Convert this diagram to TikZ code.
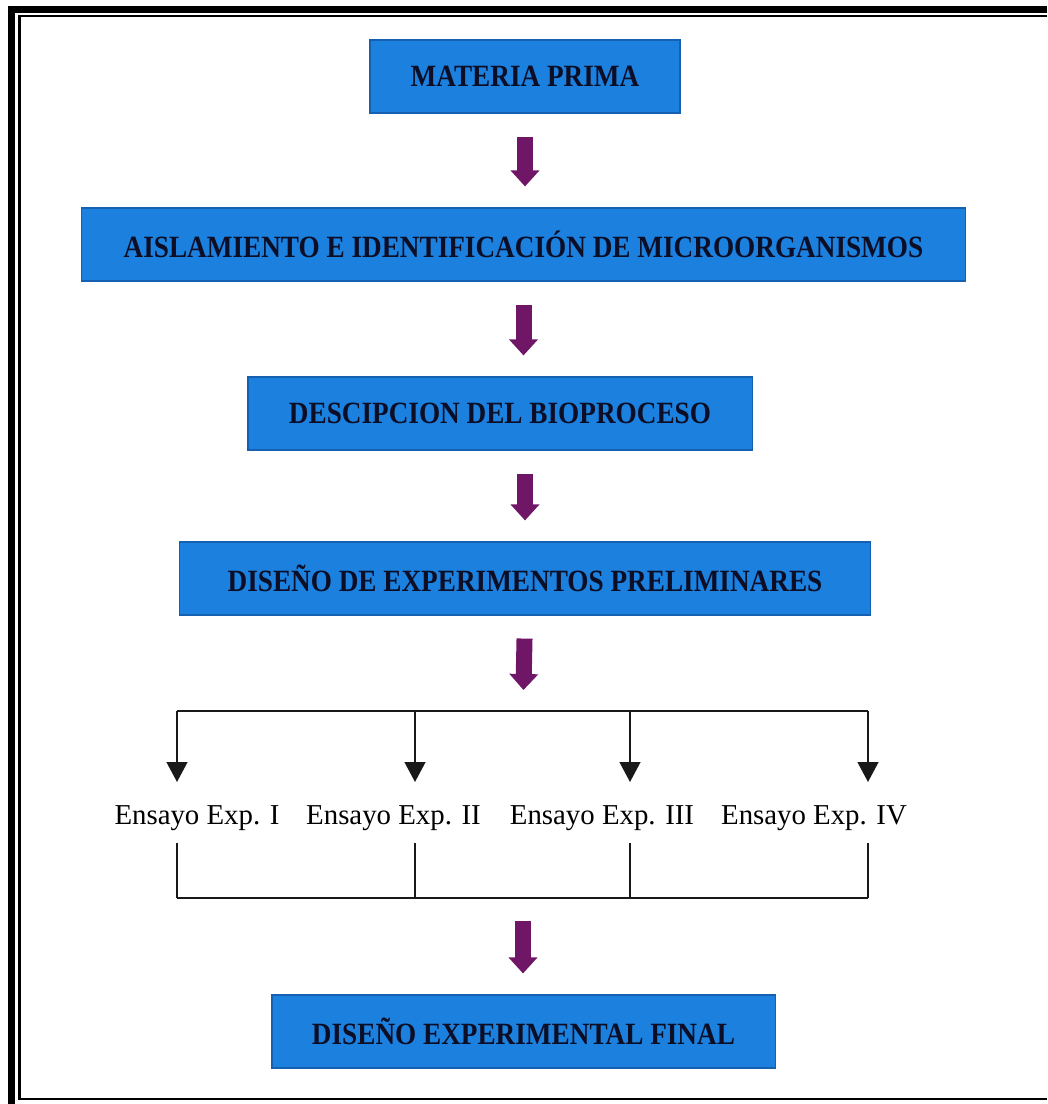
\documentclass[tikz,border=0pt]{standalone}
\usepackage{fontspec}
\setmainfont{Liberation Serif}
\newfontfamily\stagefont{Liberation Serif}[FakeStretch=0.88]
\usetikzlibrary{arrows.meta,positioning}

\definecolor{boxblue}{RGB}{28,128,222}
\definecolor{boxedge}{RGB}{22,96,178}
\definecolor{flowpurple}{RGB}{112,22,102}
\definecolor{inkblue}{RGB}{12,14,38}

\begin{document}
\begin{tikzpicture}[
    x=0.025cm, y=-0.025cm,
    stage/.style={
      draw=boxedge, fill=boxblue, line width=0.8pt,
      minimum height=1.825cm,   % <- all blue boxes share this height
      inner sep=0pt, text=inkblue,
      font=\stagefont\fontsize{22}{24}\selectfont\bfseries
    },
    trial/.style={inner sep=0pt, font=\fontsize{20.5}{24}\selectfont},
    flow/.style={
      draw=flowpurple, line width=0.4cm,
      -{Triangle[width=0.7cm,length=0.4cm,fill=flowpurple]},
      shorten <=0.575cm, shorten >=0.525cm
    },
    split/.style={draw=black!90, line width=1.4pt},
    drop/.style={split, -{Triangle[width=0.52cm,length=0.5cm]}},
    frameout/.style={line width=5pt},
    framein/.style={line width=2.1pt}
  ]

\useasboundingbox (0,0) rectangle (1047,1104);

% --- Page frame (double line on top and left) ---
    \draw[frameout] (11.5,1104) -- (11.5,9.5) -- (1047,9.5);
    \draw[framein] (1047,16) -- (19.5,16) -- (19.5,1099) -- (1047,1099);

% --- Process stages ---
    \node[stage, minimum width=7.75cm]   (raw)    at (525,76.5)   {MATERIA PRIMA};
    \node[stage, minimum width=22.075cm] (isol)   at (523.5,244.5) {AISLAMIENTO E IDENTIFICACIÓN DE MICROORGANISMOS};
    \node[stage, minimum width=12.6cm]   (bioproc) at (500,413.5)  {DESCIPCION DEL BIOPROCESO};
    \node[stage, minimum width=17.25cm]  (prelim) at (525,578.5)   {DISEÑO DE EXPERIMENTOS PRELIMINARES};
    \node[stage, minimum width=12.575cm] (final)  at (523.5,1031.5) {DISEÑO EXPERIMENTAL FINAL};

% --- Purple arrows between stages ---
    \draw[flow] (raw.south) -- (raw.south |- isol.north);
    \draw[flow] (isol.south) -- (isol.south |- bioproc.north);
    \draw[flow] (prelim.north |- bioproc.south) -- (prelim.north);

% --- Branching into the four trials ---
    \coordinate (fork) at (523,711);
    \coordinate (join) at (523,898);
    \foreach \i/\x in {1/177,2/415,3/630,4/868}{
      \coordinate (top\i) at (\x,711);
      \coordinate (tip\i) at (\x,782);
      \coordinate (up\i)  at (\x,843);
      \coordinate (low\i) at (\x,898);
    }
    \draw[flow] (prelim.south) -- (fork);
    \draw[split] (top1) -- (top4);
    \foreach \i in {1,...,4}{
      \draw[drop] (top\i) -- (tip\i);
      \draw[split] (up\i) -- (low\i);
    }
    \draw[split] (low1) -- (low4);

    \node[trial] (exp1) at (197,818) {Ensayo Exp. I};
    \node[trial] (exp2) at (393.5,818) {Ensayo Exp. II};
    \node[trial] (exp3) at (602,818) {Ensayo Exp. III};
    \node[trial] (exp4) at (814,818) {Ensayo Exp. IV};

% --- Towards the final design ---
    \draw[flow] (join) -- (join |- final.north);

  \end{tikzpicture}
\end{document}
